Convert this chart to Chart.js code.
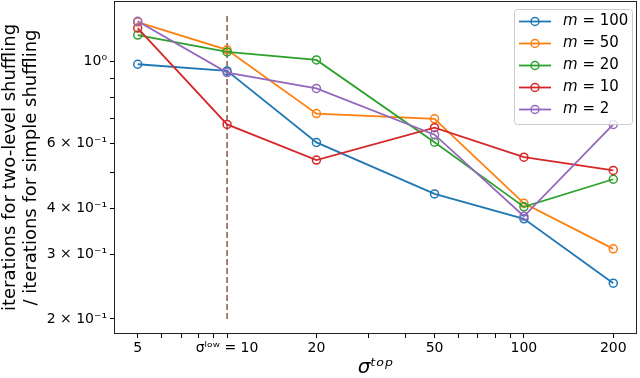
<!DOCTYPE html>
<html>
<head>
<meta charset="utf-8">
<script src="https://cdn.jsdelivr.net/npm/chart.js@4/dist/chart.umd.min.js"></script>
<style>
  html, body { margin: 0; padding: 0; background: #fff; }
  #wrap { width: 640px; height: 378px; }
</style>
</head>
<body>
<div id="wrap"><canvas id="myChart" width="640" height="378"></canvas></div>
<script>
// sigma^top (x axis, log scale)
const sigmaTop = [5, 10, 20, 50, 100, 200];

// ratio of iterations, one array per m
const mLabels = ['100', '50', '20', '10', '2'];
const m100 = [0.983, 0.943, 0.603, 0.437, 0.374, 0.250];
const m50  = [1.28, 1.076, 0.722, 0.699, 0.412, 0.310];
const m20  = [1.18, 1.062, 1.01, 0.604, 0.403, 0.479];
const m10  = [1.233, 0.675, 0.540, 0.661, 0.550, 0.506];
const m2   = [1.286, 0.933, 0.845, 0.633, 0.380, 0.675];

// dashed marker at sigma^low
const sigmaLow = 10;
const sigmaLowSpan = [0.2, 1.33];

// ticks
const xTickValues = [5, 6, 7, 8, 9, 10, 20, 30, 40, 50, 60, 70, 80, 90, 100, 200];
const xTickText   = ['5', '', '', '', '', 'σˡᵒʷ = 10', '20', '', '', '50', '', '', '', '', '100', '200'];
const yTickValues = [0.2, 0.3, 0.4, 0.5, 0.6, 0.7, 0.8, 0.9, 1];
const yTickText   = ['2 × 10⁻¹', '3 × 10⁻¹', '4 × 10⁻¹', '', '6 × 10⁻¹', '', '', '', '10⁰'];

// matplotlib tab10 farben
const lineColors = ['#1f77b4', '#ff7f0e', '#2ca02c', '#d62728', '#9467bd'];
const seriesValues = [m100, m50, m20, m10, m2];

const datasets = seriesValues.map((vals, i) => ({
    label: 'm = ' + mLabels[i],
    data: sigmaTop.map((x, j) => ({ x: x, y: vals[j] })),
    borderColor: lineColors[i],
    backgroundColor: 'rgba(0,0,0,0)',
    pointBorderColor: lineColors[i],
    pointBackgroundColor: 'rgba(0,0,0,0)',
    pointRadius: 4,
    pointBorderWidth: 1.5,
    borderWidth: 1.8,
    tension: 0,
    order: 4 - i
}));
datasets.push({
    label: 'sigma_low',
    data: sigmaLowSpan.map(y => ({ x: sigmaLow, y: y })),
    borderColor: '#8c564b',
    borderDash: [6, 3],
    borderWidth: 1.5,
    pointRadius: 0,
    order: 10
});

// Rahmen um die Plotflaeche
const framePlugin = {
    id: 'frame',
    afterDatasetsDraw(chart) {
        const a = chart.chartArea, ctx = chart.ctx;
        ctx.save();
        ctx.strokeStyle = '#222';
        ctx.lineWidth = 1;
        ctx.strokeRect(Math.round(a.left) + 0.5, Math.round(a.top) + 0.5,
                       Math.round(a.right - a.left) - 1, Math.round(a.bottom - a.top) - 1);
        ctx.restore();
    }
};

// Legende oben rechts innerhalb der Achsen
const legendPlugin = {
    id: 'innerLegend',
    afterDraw(chart) {
        const a = chart.chartArea, ctx = chart.ctx;
        const w = 118, h = 115;
        const x0 = a.right - 5 - w, y0 = a.top + 8;
        ctx.save();
        ctx.fillStyle = 'rgba(255,255,255,0.8)';
        ctx.strokeStyle = '#cccccc';
        ctx.lineWidth = 1;
        ctx.beginPath();
        ctx.roundRect(x0 + 0.5, y0 + 0.5, w, h, 3);
        ctx.fill();
        ctx.stroke();
        for (let i = 0; i < mLabels.length; i++) {
            const y = y0 + 12.5 + i * 22;
            ctx.strokeStyle = lineColors[i];
            ctx.lineWidth = 1.8;
            ctx.beginPath();
            ctx.moveTo(x0 + 5, y);
            ctx.lineTo(x0 + 37, y);
            ctx.stroke();
            ctx.lineWidth = 1.5;
            ctx.beginPath();
            ctx.arc(x0 + 21, y, 4, 0, Math.PI * 2);
            ctx.stroke();
            ctx.fillStyle = '#000';
            ctx.textBaseline = 'middle';
            ctx.font = 'italic 15px "DejaVu Sans"';
            ctx.fillText('m', x0 + 49, y);
            const mw = ctx.measureText('m').width;
            ctx.font = '15px "DejaVu Sans"';
            ctx.fillText(' = ' + mLabels[i], x0 + 49 + mw, y);
        }
        ctx.restore();
    }
};

const ctx = document.getElementById('myChart').getContext('2d');
const chart = new Chart(ctx, {
    type: 'line',
    data: { datasets: datasets },
    options: {
        responsive: false,
        animation: false,
        layout: { autoPadding: false, padding: { top: 1, right: 3, left: 0, bottom: 0 } },
        plugins: {
            legend: { display: false },
            tooltip: { enabled: false }
        },
        scales: {
            x: {
                type: 'logarithmic',
                min: 4.16,
                max: 240.4,
                afterBuildTicks: s => { s.ticks = xTickValues.map(v => ({ value: v })); },
                afterFit: s => { s.height = 44; s.paddingLeft = 0; s.paddingRight = 0; },
                ticks: {
                    autoSkip: false,
                    maxRotation: 0,
                    padding: 2,
                    color: '#000',
                    font: { family: 'DejaVu Sans', size: 14 },
                    callback: (v, i) => xTickText[i]
                },
                grid: { drawOnChartArea: false, drawTicks: true, tickLength: 4, tickColor: '#000' },
                border: { display: false },
                title: {
                    display: true,
                    text: 'σᵗᵒᵖ',
                    color: '#000',
                    padding: 0,
                    font: { family: 'DejaVu Sans', size: 20, style: 'italic', lineHeight: 1 }
                }
            },
            y: {
                type: 'logarithmic',
                min: 0.182,
                max: 1.46,
                afterBuildTicks: s => { s.ticks = yTickValues.map(v => ({ value: v })); },
                afterFit: s => { s.width = 114; s.paddingTop = 0; s.paddingBottom = 0; },
                ticks: {
                    autoSkip: false,
                    padding: 3,
                    color: '#000',
                    font: { family: 'DejaVu Sans', size: 14 },
                    callback: (v, i) => yTickText[i]
                },
                grid: { drawOnChartArea: false, drawTicks: true, tickLength: 4, tickColor: '#000' },
                border: { display: false },
                title: {
                    display: true,
                    text: ['iterations for two-level shuffling', '/ iterations for simple shuffling'],
                    color: '#000',
                    padding: 0,
                    font: { family: 'DejaVu Sans', size: 18, lineHeight: 1.17 }
                }
            }
        }
    },
    plugins: [framePlugin, legendPlugin]
});
</script>
</body>
</html>
